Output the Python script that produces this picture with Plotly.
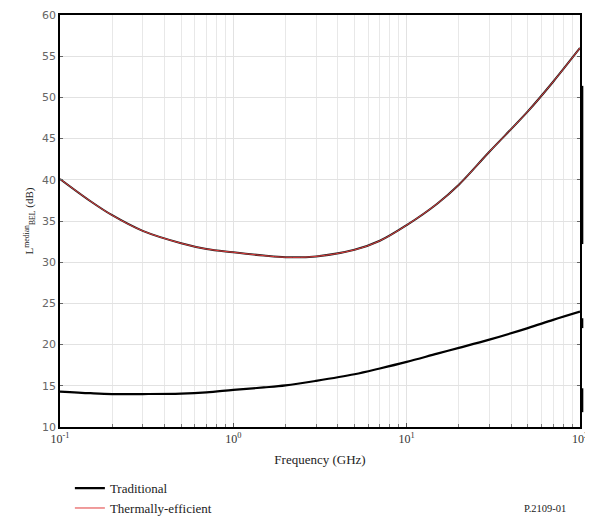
import plotly.graph_objects as go

# ---- data ----
freq_ghz = [0.1, 0.15, 0.2, 0.3, 0.5, 0.7, 1, 1.5, 2, 3, 5, 7, 10, 15, 20, 30, 50, 70, 100]
traditional_db = [14.3, 14.1, 14.0, 14.0, 14.05, 14.2, 14.5, 14.8, 15.05, 15.6, 16.4, 17.1, 17.9,
                  18.9, 19.6, 20.6, 22.0, 23.0, 24.0]
thermal_db = [40.1, 37.4, 35.7, 33.8, 32.3, 31.6, 31.2, 30.8, 30.6, 30.7, 31.5, 32.6, 34.5,
              37.1, 39.4, 43.4, 48.3, 51.9, 56.0]

series_names = ["Traditional", "Thermally-efficient"]
x_tick_vals = [0.1, 1, 10, 100]
x_tick_text = ["10<sup>-1</sup>", "10<sup>0</sup>", "10<sup>1</sup>", "10<sup>2</sup>"]
y_tick_vals = [10, 15, 20, 25, 30, 35, 40, 45, 50, 55, 60]

# scan artefact bars on the right edge (y ranges, dB)
edge_bars = [(32.2, 51.4), (22.0, 23.2), (11.8, 14.7)]

serif = "Liberation Serif, Times New Roman, serif"
sans = "DejaVu Sans, Verdana, sans-serif"

fig = go.Figure()
fig.add_trace(go.Scatter(x=freq_ghz, y=traditional_db, mode="lines", name=series_names[0],
                         line=dict(color="black", width=2.2, shape="spline")))
fig.add_trace(go.Scatter(x=freq_ghz, y=thermal_db, mode="lines", showlegend=False,
                         hoverinfo="skip", line=dict(color="#222222", width=2.0, shape="spline")))
fig.add_trace(go.Scatter(x=freq_ghz, y=thermal_db, mode="lines", name=series_names[1],
                         line=dict(color="#e03a3a", width=1.0, shape="spline")))

for y0, y1 in edge_bars:
    fig.add_shape(type="line", xref="paper", yref="y", x0=1.004, x1=1.004, y0=y0, y1=y1,
                  line=dict(color="black", width=2.5))

fig.add_annotation(text="P.2109-01", xref="paper", yref="paper", x=0.933, y=-0.197,
                   xanchor="center", yanchor="middle", showarrow=False,
                   font=dict(family=serif, size=10.5, color="#222"))

fig.update_xaxes(type="log", range=[-1, 2], tickvals=x_tick_vals, ticktext=x_tick_text,
                 automargin=False,
                 showline=True, linecolor="black", linewidth=1.5, mirror=True,
                 ticks="inside", ticklen=4, tickcolor="#555",
                 showgrid=True, gridcolor="#e2e2e2", gridwidth=1,
                 minor=dict(dtick="D1", showgrid=True, gridcolor="#e8e8e8", ticks="inside",
                            ticklen=3, tickcolor="#777"),
                 tickfont=dict(family=serif, size=12, color="#333"),
                 title=dict(text="Frequency (GHz)", font=dict(family=serif, size=13, color="#222"),
                            standoff=10),
                 zeroline=False)
fig.update_yaxes(range=[10, 60], tickvals=y_tick_vals, automargin=False,
                 showline=True, linecolor="black", linewidth=1.5, mirror="ticks",
                 ticks="inside", ticklen=3, tickcolor="#666",
                 showgrid=True, gridcolor="#e2e2e2", gridwidth=1,
                 tickfont=dict(family=sans, size=11, color="#666"),
                 title=dict(text="L<sup>median</sup><sub>BEL</sub> (dB)",
                            font=dict(family=serif, size=11, color="#222"), standoff=6),
                 zeroline=False)

fig.update_layout(width=593, height=519, margin=dict(l=52, r=21, t=7, b=100, autoexpand=False),
                  paper_bgcolor="white", plot_bgcolor="white",
                  showlegend=True,
                  legend=dict(x=0.019, y=-0.112, xanchor="left", yanchor="top",
                              orientation="v", itemwidth=30, tracegroupgap=0,
                              font=dict(family=serif, size=13, color="#222"),
                              bgcolor="rgba(0,0,0,0)"))

fig.write_html("out.html")
